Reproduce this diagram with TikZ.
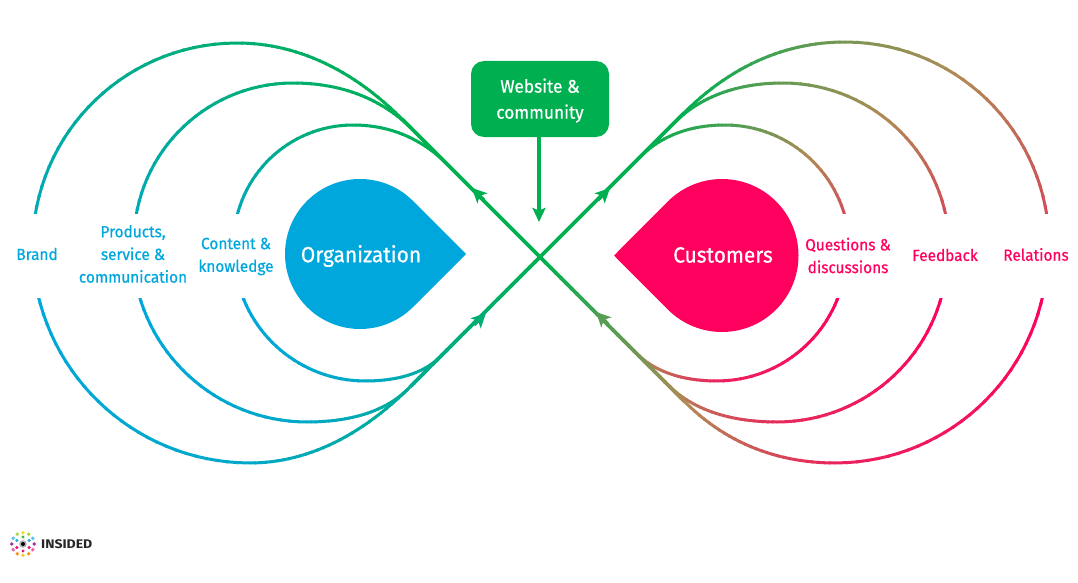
\documentclass[tikz,border=0pt]{standalone}
\usepackage{fontspec}
\setmainfont[FakeStretch=0.95,FakeBold=0.6]{Fira Sans}
\newfontfamily\logofont[FakeStretch=1.12]{Fira Sans}
\usetikzlibrary{arrows.meta}
\definecolor{cgreen}{HTML}{00B050}
\definecolor{cblue}{HTML}{00A7DD}
\definecolor{cpink}{HTML}{FF005F}
\colorlet{cbluemid}{cblue!50!cgreen}
\definecolor{cpinkmid}{HTML}{B08A55}
\tikzset{
  lab/.style={align=center,inner sep=0pt,font=\fontsize{16.2}{22.7}\selectfont},
  bluelab/.style={lab,text=cblue},
  pinklab/.style={lab,text=cpink},
  biglab/.style={inner sep=0pt,text=white,font=\fontsize{22}{26}\selectfont},
  flowhead/.style={line width=3.4pt,-{Stealth[length=14.5pt,width=14pt,inset=3.5pt]}},
  seg/.style={line width=3pt,line cap=butt},
  armseg/.style={seg/.append style={line width=3.6pt}}
}
% gradient cubic: P0,P1,P2,P3 as x,y pairs; mix value m0->m1; end colour
\newcommand{\gradbez}[9]{\def\gbA{#1}\def\gbB{#2}\def\gbC{#3}\def\gbD{#4}\def\gbE{#5}\def\gbF{#6}\def\gbG{#7}\def\gbH{#8}\def\gbMa{#9}\gradbezb}
\newcommand{\gradbezb}[2]{%
  \foreach \i in {0,...,27}{%
    \pgfmathsetmacro{\ta}{\i/28}%
    \pgfmathsetmacro{\tb}{min(1,(\i+1.25)/28)}%
    \pgfmathsetmacro{\xa}{(1-\ta)^3*\gbA+3*(1-\ta)^2*\ta*\gbC+3*(1-\ta)*\ta^2*\gbE+\ta^3*\gbG}%
    \pgfmathsetmacro{\ya}{(1-\ta)^3*\gbB+3*(1-\ta)^2*\ta*\gbD+3*(1-\ta)*\ta^2*\gbF+\ta^3*\gbH}%
    \pgfmathsetmacro{\xb}{(1-\tb)^3*\gbA+3*(1-\tb)^2*\tb*\gbC+3*(1-\tb)*\tb^2*\gbE+\tb^3*\gbG}%
    \pgfmathsetmacro{\yb}{(1-\tb)^3*\gbB+3*(1-\tb)^2*\tb*\gbD+3*(1-\tb)*\tb^2*\gbF+\tb^3*\gbH}%
    \pgfmathsetmacro{\mm}{\gbMa+(#1-\gbMa)*\ta}%
    \pgfmathsetmacro{\ma}{\mm*2}%
    \pgfmathsetmacro{\mb}{\mm*2-100}%
    \ifdim\mm pt<50pt
      \draw[seg,color=#2mid!\ma!cgreen] (\xa,\ya) -- (\xb,\yb);%
    \else
      \draw[seg,color=#2!\mb!#2mid] (\xa,\ya) -- (\xb,\yb);%
    \fi
  }}
% wing: end ex,ey; top tx,ty; merge mx,my; mixes m0,m1,m2 ; colour
\newcommand{\wing}[6]{\def\wEx{#1}\def\wEy{#2}\def\wTx{#3}\def\wTy{#4}\def\wMx{#5}\def\wMy{#6}\wingb}
\newcommand{\wingb}[4]{%
  \pgfmathsetmacro{\sa}{(\wTx>\wMx)?1:-1}%
  \pgfmathsetmacro{\ix}{\wMx+\sa*abs(\wTy-\wMy)}%
  \pgfmathsetmacro{\cax}{\wMx+0.7*(\ix-\wMx)}%
  \pgfmathsetmacro{\cay}{\wMy+0.7*(\wTy-\wMy)}%
  \pgfmathsetmacro{\cbx}{\wTx+0.62*(\ix-\wTx)}%
  \gradbez{\wMx}{\wMy}{\cax}{\cay}{\cbx}{\wTy}{\wTx}{\wTy}{#1}{#2}{#4}%
  \pgfmathsetmacro{\dxx}{abs(\wEx-\wTx)/100}%
  \pgfmathsetmacro{\dyy}{abs(\wEy-\wTy)/100}%
  \pgfmathsetmacro{\rr}{100*(\dxx*\dxx+\dyy*\dyy)/(2*\dyy)}%
  \pgfmathsetmacro{\th}{2*atan(\dyy/\dxx)}%
  \pgfmathsetmacro{\kk}{4/3*tan(\th/4)*\rr}%
  \pgfmathsetmacro{\sx}{(\wEx>\wTx)?1:-1}%
  \pgfmathsetmacro{\sy}{(\wEy>\wTy)?1:-1}%
  \pgfmathsetmacro{\cbbx}{\wTx+\sx*\kk}%
  \pgfmathsetmacro{\ccx}{\wEx-\kk*\sx*cos(\th)}%
  \pgfmathsetmacro{\ccy}{\wEy-\kk*\sy*sin(\th)}%
  \gradbez{\wTx}{\wTy}{\cbbx}{\wTy}{\ccx}{\ccy}{\wEx}{\wEy}{#2}{#3}{#4}%
}
\begin{document}
\begin{tikzpicture}[x=1pt,y=-1pt]
\useasboundingbox (0,0) rectangle (1078,583);
\coordinate (cross) at (540,257);

% upper wings
\begin{scope}
\clip (0,0) rectangle (1078,213);
\wing{35}{216}{237}{43}{402}{119}{0}{25}{75}{cblue}
\wing{136}{216}{293}{83}{412}{129}{0}{22}{75}{cblue}
\wing{237}{216}{353}{125}{447}{164}{0}{18}{75}{cblue}
\wing{1047}{216}{845}{42}{684}{113}{0}{35}{73}{cpink}
\wing{946}{216}{783}{83}{674}{123}{0}{30}{73}{cpink}
\wing{845}{216}{725}{125}{640}{157}{0}{20}{73}{cpink}
\end{scope}
% lower wings
\begin{scope}
\clip (0,298) rectangle (1078,583);
\wing{38}{295}{250}{463}{410}{387}{50}{85}{100}{cblue}
\wing{139}{295}{307}{422}{408}{389}{50}{85}{100}{cblue}
\wing{242}{295}{365}{381}{440}{357}{45}{85}{100}{cblue}
\wing{1043}{295}{835}{463}{685}{402}{50}{88}{100}{cpink}
\wing{942}{295}{777}{422}{668}{385}{50}{85}{100}{cpink}
\wing{839}{295}{717}{381}{636}{353}{45}{88}{100}{cpink}
\end{scope}

% straight arms
\coordinate (armTL) at (402,119);
\coordinate (armTR) at (684,113);
\begin{scope}[armseg]
\draw[seg,cgreen] (cross) -- (armTL);
\draw[seg,cgreen] (cross) -- (armTR);
\gradbez{540}{257}{497}{300}{453}{344}{410}{387}{0}{50}{cblue}
\gradbez{540}{257}{588}{305}{637}{354}{685}{402}{0}{50}{cpink}
\end{scope}

% flow arrowheads
\coordinate (h1a) at (484,200); \coordinate (h1b) at (472,188);
\coordinate (h2a) at (598,200); \coordinate (h2b) at (610,188);
\coordinate (h3a) at (474,325); \coordinate (h3b) at (486,313);
\coordinate (h4a) at (608,324); \coordinate (h4b) at (596,312);
\draw[flowhead,cgreen] (h1a) -- (h1b);
\draw[flowhead,cgreen] (h2a) -- (h2b);
\draw[flowhead,cbluemid!50!cgreen] (h3a) -- (h3b);
\draw[flowhead,cpinkmid!50!cgreen] (h4a) -- (h4b);

% teardrops
\fill[cblue] plot[domain=45:315,samples=91] ({360+75*cos(\x)},{254+75*sin(\x)}) -- (466,254) -- cycle;
\fill[cpink] plot[domain=-135:135,samples=91] ({722+76.5*cos(\x)},{255.5+76.5*sin(\x)}) -- (614,255.5) -- cycle;
\node[biglab] (org) at (361,256) {Organization};
\node[biglab] (cust) at (723,255) {Customers};

% website box
\node[fill=cgreen,rounded corners=13pt,minimum width=138pt,minimum height=76pt,inner sep=0pt,
      text=white,align=center,font=\fontsize{18.2}{26}\selectfont] (web) at (540,99) {};
\node[inner sep=0pt,text=white,align=center,font=\fontsize{18.2}{26}\selectfont] (webt) at (540,100.5) {Website \&\\community};
\coordinate (webtip) at (539,222);
\draw[cgreen,line width=3.6pt,-{Stealth[length=14pt,width=13pt,inset=2.5pt]}] (web.south -| webtip) -- (webtip);

% labels
\node[bluelab] (brand) at (37,254) {Brand};
\node[bluelab] (prod) at (133,254) {Products,\\service \&\\communication};
\node[bluelab] (cont) at (236,256.5) {Content \&\\knowledge};
\node[pinklab] (ques) at (848,255.5) {Questions \&\\discussions};
\node[pinklab] (feed) at (945,255) {Feedback};
\node[pinklab] (rel) at (1036,254.5) {Relations};

% logo
\foreach \a/\c in {90/F7DC1E,60/A6D84A,30/55C4EE,0/9B2FA8,-30/EE5FB0,-60/F7931E,-90/F7C81E,-120/F7931E,-150/EE5FB0,180/9B2FA8,150/55C4EE,120/A6D84A}{
  \definecolor{dc}{HTML}{\c}
  \fill[dc] ({23+11.3*cos(\a)},{544-11.3*sin(\a)}) circle (1.9);
}
\foreach \a/\c in {90/3DB54A,30/2AA8E0,-30/E6187F,-90/E6187F,-150/E6187F,150/2AA8E0}{
  \definecolor{dc}{HTML}{\c}
  \fill[dc] ({23+7*cos(\a)},{544-7*sin(\a)}) circle (1.7);
}
\fill[gray!60] (23,544) circle (3.8);
\fill[black] (23,544) circle (2);
\node[inner sep=0pt,anchor=west,text=black!85,font=\logofont\bfseries\fontsize{12.5}{12.5}\selectfont] (logo) at (41,544) {INSIDED};
\end{tikzpicture}
\end{document}
